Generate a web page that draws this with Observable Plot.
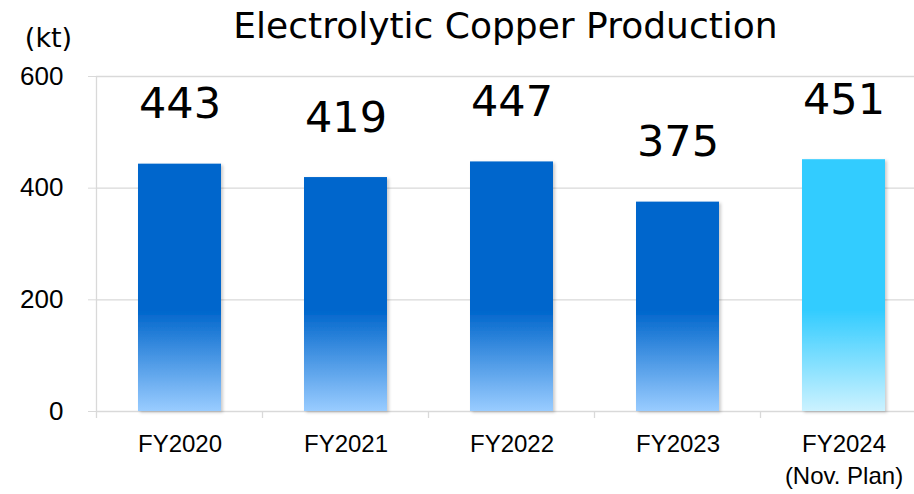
<!DOCTYPE html>
<html><head><meta charset="utf-8">
<script src="https://cdn.jsdelivr.net/npm/d3@7"></script>
<script src="https://cdn.jsdelivr.net/npm/@observablehq/plot@0.6"></script>
<style>html,body{margin:0;padding:0;background:#fff;overflow:hidden;} #chart svg{display:block;}</style>
</head><body><div id="chart"></div>
<script>
const categories = ["FY2020", "FY2021", "FY2022", "FY2023", "FY2024"];
const tickLabels = ["FY2020", "FY2021", "FY2022", "FY2023", "FY2024\n(Nov. Plan)"];
const values = [443, 419, 447, 375, 451];
const isPlan = [false, false, false, false, true];
const yTicks = [0, 200, 400, 600];
const title = "Electrolytic Copper Production";
const unitLabel = "(kt)";

const data = categories.map((c, i) => ({cat: c, value: values[i], plan: isPlan[i]}));
const actual = data.filter(d => !d.plan);
const plan = data.filter(d => d.plan);
const gridColor = "#d9d9d9";
const jpFont = "DejaVu Sans, Verdana, sans-serif";
const axFont = "Liberation Sans, Arial, sans-serif";

const chart = Plot.plot({
  width: 914, height: 494,
  marginTop: 76, marginBottom: 83, marginLeft: 96, marginRight: 0,
  style: {background: "#fff", color: "#000", overflow: "hidden"},
  x: {domain: categories, range: [96, 926], paddingInner: 0.5, paddingOuter: 0.25, label: null},
  y: {domain: [0, 600], label: null},
  marks: [
    Plot.ruleY(yTicks, {stroke: gridColor, strokeWidth: 1.3}),
    Plot.axisY({ticks: yTicks, tickSize: 8, tickPadding: 25, stroke: gridColor, fill: "#000",
      fontSize: 26, fontFamily: axFont, tickFormat: d => String(d), label: null}),
    Plot.axisX({tickSize: 0, tickPadding: 18, fill: "#000", fontSize: 24, fontFamily: axFont,
      lineHeight: 1.33, tickFormat: d => tickLabels[categories.indexOf(d)], label: null}),
    Plot.barY(actual, {x: "cat", y: "value", fill: "url(#gActual)"}),
    Plot.barY(plan, {x: "cat", y: "value", fill: "url(#gPlan)"}),
    Plot.text(data, {x: "cat", y: "value", text: d => String(d.value), dy: -46, lineAnchor: "bottom",
      fontSize: 43, fontFamily: jpFont, fill: "#000"}),
    Plot.text([title], {text: d => d, frameAnchor: "top", dy: -39, lineAnchor: "bottom",
      fontSize: 36, fontFamily: jpFont, fill: "#000"}),
    Plot.text([unitLabel], {text: d => d, frameAnchor: "top-left", dx: -48, dy: -38, textAnchor: "middle",
      lineAnchor: "middle", fontSize: 27, fontFamily: jpFont, fill: "#000"})
  ]
});
document.getElementById("chart").appendChild(chart);

// gradients, shadow and axis lines, positioned through the Plot scales
const svg = d3.select(chart);
const xs = chart.scale("x"), ys = chart.scale("y");
const y0 = ys.apply(0), yFade = ys.apply(180), yTop = ys.apply(600);
const defs = svg.insert("defs", ":first-child");
function grad(id, top, bottom) {
  const g = defs.append("linearGradient").attr("id", id).attr("gradientUnits", "userSpaceOnUse")
    .attr("x1", 0).attr("x2", 0).attr("y1", yFade).attr("y2", y0);
  g.append("stop").attr("offset", 0).attr("stop-color", top);
  g.append("stop").attr("offset", 1).attr("stop-color", bottom);
}
grad("gActual", "#0066CC", "#99CCFF");
grad("gPlan", "#33CCFF", "#CCF2FF");
const f = defs.append("filter").attr("id", "shadow").attr("x", "-20%").attr("y", "-10%").attr("width", "140%").attr("height", "125%");
f.append("feDropShadow").attr("dx", 2).attr("dy", 1.5).attr("stdDeviation", 1.5).attr("flood-color", "#000").attr("flood-opacity", 0.2);
svg.selectAll("g[aria-label='bar']").attr("filter", "url(#shadow)");

const step = xs.step ?? (xs.apply(categories[1]) - xs.apply(categories[0]));
const bw = xs.bandwidth ?? step / 2;
const firstEdge = xs.apply(categories[0]) - (step - bw) / 2;
const lines = svg.append("g").attr("stroke", gridColor).attr("stroke-width", 1.3);
lines.append("line").attr("x1", firstEdge).attr("x2", firstEdge).attr("y1", yTop).attr("y2", y0 + 7);
categories.forEach((c, i) => {
  const bx = firstEdge + (i + 1) * step;
  lines.append("line").attr("x1", bx).attr("x2", bx).attr("y1", y0).attr("y2", y0 + 7);
});
</script>
</body></html>
